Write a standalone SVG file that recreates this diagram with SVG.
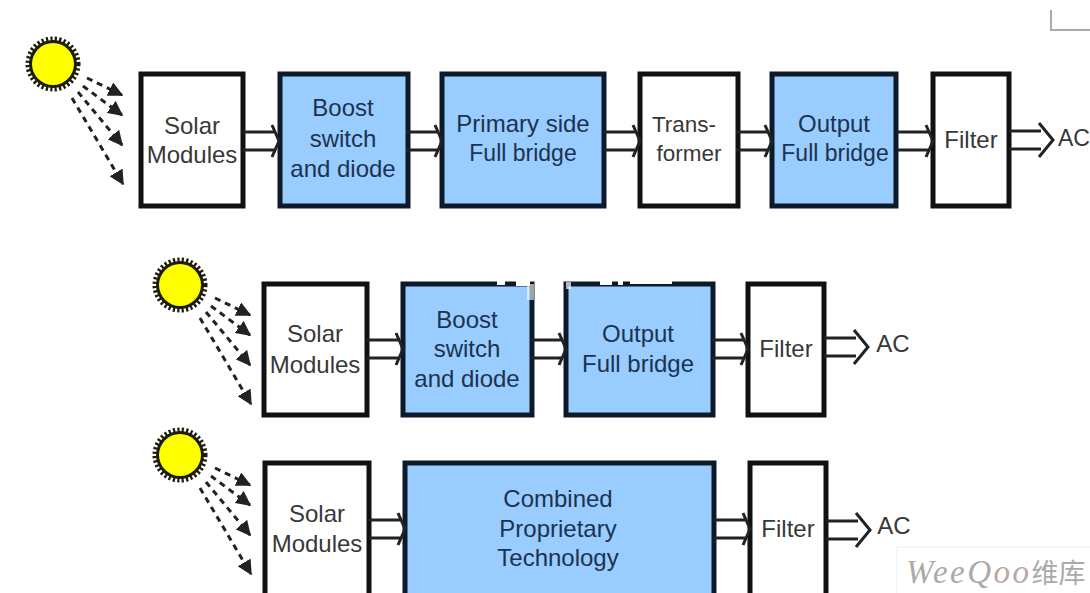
<svg xmlns="http://www.w3.org/2000/svg" width="1090" height="593" viewBox="0 0 1090 593">
<style>
.w{fill:#fff;stroke:#111;stroke-width:5}
.b{fill:#99ccff;stroke:#0c1a2a;stroke-width:5}
text{font-family:"Liberation Sans",Arial,sans-serif;font-size:24px;text-anchor:middle}
.t{fill:#383838}
.u{fill:#1c3350}
.s22{font-size:22.5px}
.s23{font-size:23px}
.conn{fill:none;stroke:#222;stroke-width:3}
.ray{fill:none;stroke:#222;stroke-width:3;stroke-dasharray:6 5}
</style>
<defs>
<marker id="ah" viewBox="0 0 10 10" refX="9" refY="5" markerWidth="5" markerHeight="5" orient="auto"><path d="M0 0L10 5L0 10Z" fill="#222"/></marker>
<g id="sun">
<circle r="25" fill="none" stroke="#1c1c08" stroke-width="5" stroke-dasharray="2.2 2.2"/>
<circle r="24" fill="#1c1c08"/>
<circle r="21" fill="#ffff00"/>
</g>
<g id="rays">
<path class="ray" marker-end="url(#ah)" d="M35 13L70 30"/>
<path class="ray" marker-end="url(#ah)" d="M31 21L70 50"/>
<path class="ray" marker-end="url(#ah)" d="M26 27L70 80"/>
<path class="ray" marker-end="url(#ah)" d="M20 33L71 119"/>
</g>
<path id="dbl" class="conn" d="M0 -9H31M0 9H31M29 -16L36 0L29 16"/>
<path id="dblw" class="conn" d="M0 -9H32M0 9H32M30 -17L44 0L30 17"/>
</defs>
<g id="corner"><path d="M1051 10V30H1090" fill="none" stroke="#aaa" stroke-width="2"/></g>
<g id="sun1"><use href="#sun" x="53" y="64"/></g>
<g id="sun2"><use href="#sun" x="180" y="285"/></g>
<g id="sun3"><use href="#sun" x="180" y="455"/></g>
<g id="r1-solar"><rect class="w" x="141" y="74" width="102" height="132"/><text class="t" x="192" y="134">Solar</text><text class="t" x="192" y="163">Modules</text></g>
<g id="r1-boost"><rect class="b" x="280" y="74" width="128" height="132"/><text class="u" x="343" y="116">Boost</text><text class="u" x="343" y="147">switch</text><text class="u" x="343" y="177">and diode</text></g>
<g id="r1-primary"><rect class="b" x="442" y="74" width="162" height="132"/><text class="u" x="523" y="132">Primary side</text><text class="u s23" x="523" y="161">Full bridge</text></g>
<g id="r1-trans"><rect class="w" x="640" y="74" width="98" height="132"/><text class="t s22" x="684" y="132">Trans-</text><text class="t s22" x="689" y="161">former</text></g>
<g id="r1-output"><rect class="b" x="772" y="74" width="124" height="132"/><text class="u" x="834" y="132">Output</text><text class="u s23" x="835" y="161">Full bridge</text></g>
<g id="r1-filter"><rect class="w" x="933" y="74" width="76" height="132"/><text class="t" x="971" y="148">Filter</text></g>
<text id="ac1" class="t s23" x="1074" y="146">AC</text>
<g id="r2-solar"><rect class="w" x="264" y="284" width="103" height="131"/><text class="t" x="315" y="342">Solar</text><text class="t" x="315" y="373">Modules</text></g>
<g id="r2-boost"><rect class="b" x="403" y="284" width="129" height="131"/><text class="u" x="467" y="328">Boost</text><text class="u" x="467" y="357">switch</text><text class="u" x="467" y="387">and diode</text></g>
<g id="r2-output"><rect class="b" x="566" y="284" width="147" height="131"/><text class="u" x="638" y="342">Output</text><text class="u" x="638" y="372">Full bridge</text></g>
<g id="r2-filter"><rect class="w" x="748" y="284" width="76" height="131"/><text class="t" x="786" y="357">Filter</text></g>
<text id="ac2" class="t" x="893" y="352">AC</text>
<g id="r3-solar"><rect class="w" x="265" y="463" width="104" height="140"/><text class="t" x="317" y="522">Solar</text><text class="t" x="317" y="552">Modules</text></g>
<g id="r3-combined"><rect class="b" x="405" y="463" width="309" height="140"/><text class="u" x="558" y="507">Combined</text><text class="u" x="558" y="537">Proprietary</text><text class="u" x="558" y="566">Technology</text></g>
<g id="r3-filter"><rect class="w" x="750" y="463" width="76" height="140"/><text class="t" x="788" y="537">Filter</text></g>
<text id="ac3" class="t" x="894" y="534">AC</text>
<g id="connectors">
<use href="#rays" x="52" y="65"/>
<use href="#rays" x="180" y="285"/>
<use href="#rays" x="180" y="455"/>
<use href="#dbl" x="243" y="141"/>
<use href="#dbl" x="406" y="141"/>
<use href="#dbl" x="604" y="141"/>
<use href="#dbl" x="736" y="141"/>
<use href="#dbl" x="897" y="141"/>
<use href="#dblw" x="1009" y="140"/>
<use href="#dbl" x="367" y="349"/>
<use href="#dbl" x="530" y="349"/>
<use href="#dbl" x="712" y="349"/>
<use href="#dblw" x="824" y="347"/>
<use href="#dbl" x="369" y="529"/>
<use href="#dbl" x="714" y="529"/>
<use href="#dblw" x="826" y="530"/>
</g>
<g id="erasures" fill="#fff"><rect x="497" y="281" width="8" height="4"/><rect x="516" y="281" width="14" height="5"/><rect x="527" y="284" width="7" height="16" opacity=".6"/><rect x="566" y="282" width="5" height="7" opacity=".7"/><rect x="600" y="281" width="12" height="4"/><rect x="618" y="281" width="5" height="4"/><rect x="630" y="281" width="42" height="3"/></g>
<g id="watermark"><rect x="897" y="547" width="200" height="50" fill="#fff" stroke="#eee"/><text x="906" y="583" style="text-anchor:start;font-family:'Liberation Serif','Noto Sans CJK SC',serif;font-size:33px;font-style:italic;letter-spacing:2.5px;fill:#aaa">WeeQ<tspan fill="#b9a8a4">oo</tspan><tspan style="font-size:27px;font-style:normal;letter-spacing:0;font-family:'Noto Sans CJK SC',sans-serif">维库</tspan></text></g>
</svg>
